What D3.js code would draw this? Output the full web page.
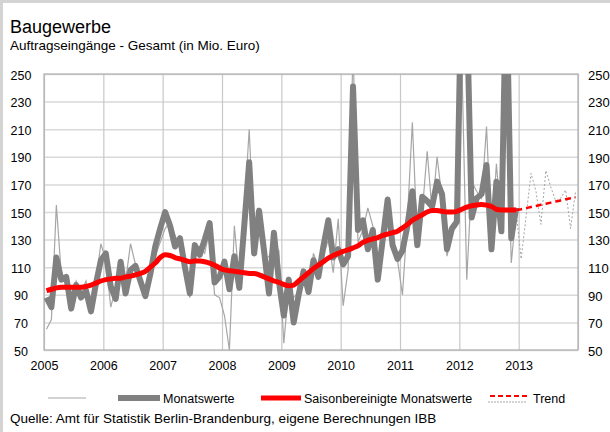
<!DOCTYPE html>
<html>
<head>
<meta charset="utf-8">
<script src="https://cdn.jsdelivr.net/npm/d3@7"></script>
<style>
  body { margin: 0; background: #fff; }
  svg text { font-family: "Liberation Sans", Arial, sans-serif; fill: #000; }
</style>
</head>
<body>
<div id="chart"></div>
<script>
// Jahre (Achsenbeschriftung) und Y-Ticks
var years = ["2005","2006","2007","2008","2009","2010","2011","2012","2013"];
var yTicks = [50,70,90,110,130,150,170,190,210,230,250];

// Monatswerte Jan 2005 - Dez 2012 (duenne Linie)
var monatswerteDuenn = [
  65, 72, 155, 105, 100, 85, 100, 92, 100, 80, 100, 127,
  115, 81, 95, 108, 100, 127, 112, 100, 95, 107, 118, 128,
  138, 143, 133, 125, 105, 88, 122, 125, 120, 137, 90, 88,
  75, 50, 140, 100, 150, 210, 130, 140, 115, 118, 125, 122,
  55, 95, 88, 92, 100, 95, 120, 110, 118, 130, 106, 145,
  82, 108, 270, 128, 137, 153, 140, 117, 125, 140, 131, 115,
  90, 145, 215, 130, 150, 194, 150, 190, 160, 118, 135, 140,
  260, 101, 172, 165, 160, 212, 130, 185, 140, 260, 113, 150
];

// Monatswerte (dicke Linie)
var monatswerte = [
  88, 81, 117, 101, 103, 80, 97, 88, 93, 78, 98, 115,
  120, 96, 87, 114, 91, 108, 111, 100, 89, 105, 125, 138,
  150, 140, 125, 131, 110, 91, 126, 119, 130, 142, 99, 103,
  114, 94, 118, 95, 140, 186, 120, 151, 122, 91, 135, 100,
  75, 101, 70, 90, 107, 92, 115, 103, 125, 144, 117, 123,
  112, 118, 241, 137, 144, 123, 137, 101, 130, 159, 126, 116,
  122, 140, 165, 126, 161, 158, 154, 172, 163, 123, 138, 143,
  330, 300, 146, 160, 163, 184, 123, 172, 136, 320, 131, 153
];

// Saisonbereinigte Monatswerte
var saisonbereinigt = [
  93, 94, 95, 95.5, 95.5, 95.5, 95.5, 95.5, 96, 97, 98.5, 100,
  101, 101.5, 102, 102, 103, 103.5, 104.5, 105.5, 107, 110, 113, 117,
  119, 118.5, 117, 116, 115, 114, 114.5, 114.5, 114, 113, 111.5, 109.5,
  108, 107.5, 107, 106.5, 106, 105.5, 105.5, 104.5, 103, 101.5, 100, 99,
  97.5, 96.5, 97, 100, 103, 106, 109, 111.5, 114, 116.5, 118.5, 120,
  121.5, 122.5, 124, 125.5, 128, 129.5, 130.5, 131.5, 133, 134, 135, 136,
  138.5, 141, 144, 146, 148, 150, 151, 151, 150.5, 150, 150, 150.5,
  152, 153.5, 154.5, 155, 155.5, 155, 154, 152, 151.5, 151.5, 151.5, 151.5
];

// 2013: Prognose (grau gestrichelt) und Trend (rot gestrichelt)
var prognose2013 = [116, 147, 178, 165, 141, 180, 168, 158, 160, 166, 138, 165];
var trend2013 = [152, 152.8, 153.6, 154.4, 155.2, 156, 156.8, 157.6, 158.4, 159.2, 160, 160.8];

var legendLabels = ["", "Monatswerte", "Saisonbereinigte Monatswerte", "Trend"];

var W = 610, H = 432;
var mLeft = 44, mRight = 578, mTop = 74, mBottom = 350;
var fontFam = "Liberation Sans, Arial, sans-serif";

var svg = d3.select("#chart").append("svg")
  .attr("width", W).attr("height", H);

// aeusserer Rahmen
svg.append("rect")
  .attr("x", 1.5).attr("y", 1.5)
  .attr("width", W + 20).attr("height", H + 20)
  .attr("fill", "none").attr("stroke", "#d4d4d4").attr("stroke-width", 3);

svg.append("text").attr("x", 10).attr("y", 33)
  .attr("font-size", "18px").text("Baugewerbe");
svg.append("text").attr("x", 10).attr("y", 50)
  .attr("font-size", "13.5px")
  .text("Auftragseingänge - Gesamt (in Mio. Euro)");

var x = d3.scaleLinear().domain([0, years.length * 12]).range([mLeft, mRight]);
var y = d3.scaleLinear().domain([50, 250]).range([mBottom, mTop]);

// Gitterlinien
svg.append("g")
  .attr("transform", "translate(" + mLeft + ",0)")
  .call(d3.axisLeft(y).tickValues(yTicks).tickSize(-(mRight - mLeft)).tickFormat(""))
  .call(function(g){
    g.select(".domain").remove();
    g.selectAll("line").attr("stroke", "#d9d9d9").attr("stroke-width", 1.5);
  });

svg.append("g")
  .attr("transform", "translate(0," + mBottom + ")")
  .call(d3.axisBottom(x).tickValues(d3.range(0, years.length * 12 + 1, 12)).tickSize(-(mBottom - mTop)).tickFormat(""))
  .call(function(g){
    g.select(".domain").remove();
    g.selectAll("line").attr("stroke", "#c8c8c8").attr("stroke-width", 1.2);
  });

svg.append("rect")
  .attr("x", mLeft).attr("y", mTop)
  .attr("width", mRight - mLeft).attr("height", mBottom - mTop)
  .attr("fill", "none").attr("stroke", "#b0b0b0").attr("stroke-width", 1.2);

// Achsenbeschriftung
svg.append("g")
  .attr("transform", "translate(" + mLeft + ",0)")
  .call(d3.axisLeft(y).tickValues(yTicks).tickSize(0))
  .call(function(g){
    g.select(".domain").remove();
    g.selectAll("text").attr("x", -23).attr("dy", "0.4em")
      .attr("text-anchor", "middle").attr("font-size", "12.5px")
      .attr("font-family", fontFam).attr("fill", "#000");
  });

svg.append("g")
  .attr("transform", "translate(" + mRight + ",0)")
  .call(d3.axisRight(y).tickValues(yTicks).tickSize(0))
  .call(function(g){
    g.select(".domain").remove();
    g.selectAll("text").attr("x", 10).attr("dy", "0.4em")
      .attr("text-anchor", "start").attr("font-size", "13px")
      .attr("font-family", fontFam).attr("fill", "#000");
  });

svg.append("g")
  .attr("transform", "translate(0," + mBottom + ")")
  .call(d3.axisBottom(x).tickValues(d3.range(0, years.length * 12, 12)).tickSize(0).tickPadding(11)
    .tickFormat(function(d, i){ return years[i]; }))
  .call(function(g){
    g.select(".domain").remove();
    g.selectAll("text").attr("font-size", "12.5px")
      .attr("font-family", fontFam).attr("fill", "#000");
  });

// Linien
svg.append("clipPath").attr("id", "plot")
  .append("rect").attr("x", mLeft).attr("y", mTop)
  .attr("width", mRight - mLeft).attr("height", mBottom - mTop);

var line = d3.line()
  .x(function(d){ return x(d[0] + 0.5); })
  .y(function(d){ return y(d[1]); });

function pts(arr, offset){
  return arr.map(function(v, i){ return [i + offset, v]; });
}

var plot = svg.append("g").attr("clip-path", "url(#plot)");

var last = monatswerte.length - 1;

plot.append("path")
  .datum([[last, monatswerteDuenn[last]]].concat(pts(prognose2013, monatswerte.length)))
  .attr("d", line).attr("fill", "none")
  .attr("stroke", "#a6a6a6").attr("stroke-width", 1).attr("stroke-dasharray", "2,2");

plot.append("path")
  .datum(pts(monatswerteDuenn, 0))
  .attr("d", line).attr("fill", "none")
  .attr("stroke", "#a6a6a6").attr("stroke-width", 1.2);

plot.append("path")
  .datum(pts(monatswerte, 0))
  .attr("d", line).attr("fill", "none")
  .attr("stroke", "#808080").attr("stroke-width", 6).attr("stroke-linejoin", "round");

plot.append("path")
  .datum(pts(saisonbereinigt, 0))
  .attr("d", d3.line().curve(d3.curveMonotoneX).x(line.x()).y(line.y()))
  .attr("fill", "none")
  .attr("stroke", "#ff0000").attr("stroke-width", 5).attr("stroke-linejoin", "round");

plot.append("path")
  .datum([[last, saisonbereinigt[last]]].concat(pts(trend2013, monatswerte.length)))
  .attr("d", line).attr("fill", "none")
  .attr("stroke", "#ff0000").attr("stroke-width", 2.5).attr("stroke-dasharray", "6,4");

// Legende
var lg = svg.append("g");
var ly = 398;
lg.append("line").attr("x1", 48).attr("x2", 86).attr("y1", ly).attr("y2", ly)
  .attr("stroke", "#a6a6a6").attr("stroke-width", 1);
lg.append("line").attr("x1", 118).attr("x2", 160).attr("y1", ly).attr("y2", ly)
  .attr("stroke", "#808080").attr("stroke-width", 6);
lg.append("text").attr("x", 163).attr("y", ly + 4.5).attr("font-size", "12.5px")
  .text(legendLabels[1]);
lg.append("line").attr("x1", 261).attr("x2", 301).attr("y1", ly).attr("y2", ly)
  .attr("stroke", "#ff0000").attr("stroke-width", 5);
lg.append("text").attr("x", 304).attr("y", ly + 4.5).attr("font-size", "12.5px")
  .text(legendLabels[2]);
lg.append("line").attr("x1", 488).attr("x2", 526).attr("y1", ly + 4).attr("y2", ly + 4)
  .attr("stroke", "#a6a6a6").attr("stroke-width", 1).attr("stroke-dasharray", "2,1");
lg.append("line").attr("x1", 490).attr("x2", 530).attr("y1", ly - 2).attr("y2", ly - 2)
  .attr("stroke", "#ff0000").attr("stroke-width", 2).attr("stroke-dasharray", "5,3");
lg.append("text").attr("x", 533).attr("y", ly + 4.5).attr("font-size", "12.5px")
  .text(legendLabels[3]);

svg.append("text").attr("x", 10).attr("y", 423)
  .attr("font-size", "13.5px")
  .text("Quelle: Amt für Statistik Berlin-Brandenburg, eigene Berechnungen IBB");
</script>
</body>
</html>
